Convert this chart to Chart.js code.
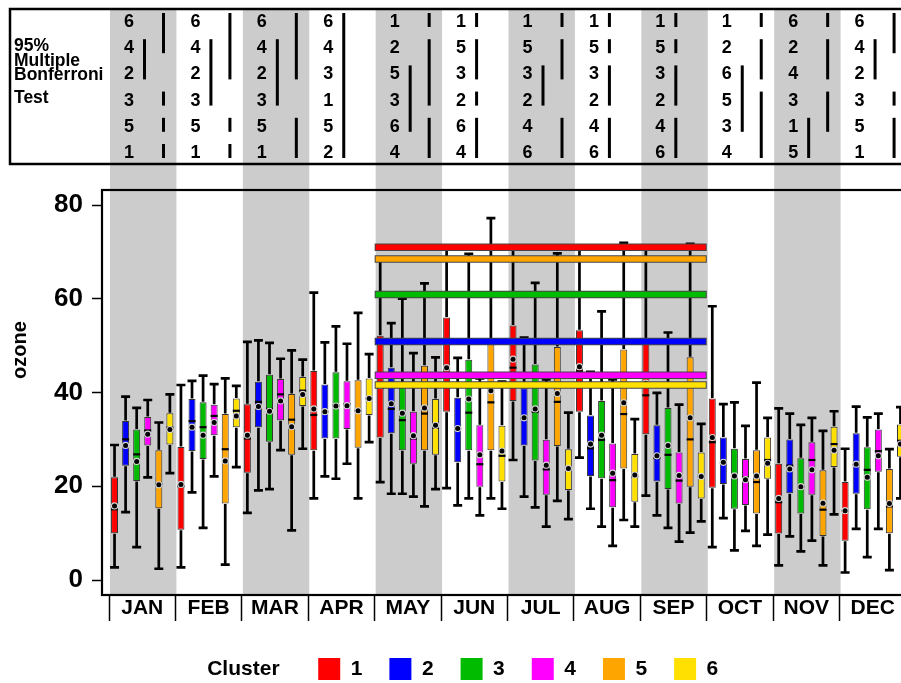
<!DOCTYPE html>
<html><head><meta charset="utf-8">
<script src="https://cdn.jsdelivr.net/npm/chart.js@4.4.0/dist/chart.umd.min.js"></script>
<style>html,body{margin:0;padding:0;background:#fff;overflow:hidden;width:901px;height:683px}canvas{display:block}</style>
</head><body><canvas id="c" width="920" height="690"></canvas>
<script>
const months = ['JAN','FEB','MAR','APR','MAY','JUN','JUL','AUG','SEP','OCT','NOV','DEC'];
const clusters = ['1','2','3','4','5','6'];
const clusterColors = ['#FF0000','#0000FF','#00BB00','#FF00FF','#FFA500','#FFE000'];
const yTicks = [0,20,40,60,80];
const shadedMonths = [0,2,4,6,8,10];

// cluster 1
const c1Low  = [2.7, 2.7,14.3,17.4,20.9,19.6,25.6,26.1,18.0, 7.0, 3.1, 1.6];
const c1Q1   = [10.0,10.7,22.9,27.7,30.4,35.9,38.2,35.9,31.1,19.7, 9.9, 8.4];
const c1Med  = [15.1,20.0,30.2,35.2,41.0,45.0,45.3,44.5,39.4,29.4,16.6,14.8];
const c1Q3   = [21.9,28.4,37.5,44.6,52.1,56.0,54.3,53.3,50.5,38.7,24.8,20.9];
const c1High = [28.8,41.6,50.8,61.3,68.5,70.5,70.5,70.5,70.5,58.4,36.6,28.0];
const c1Mean = [15.8,20.4,30.9,36.5,41.5,45.3,47.1,45.5,42.0,30.4,17.4,14.8];
// cluster 2
const c2Low  = [14.5,18.7,19.1,22.1,18.4,15.9,17.8,15.2,13.8,13.2, 9.3,10.9];
const c2Q1   = [24.4,27.5,32.6,30.2,31.3,25.1,28.7,22.2,21.0,20.5,18.5,18.4];
const c2Med  = [30.0,33.9,38.0,35.9,36.5,32.3,34.5,28.1,26.0,24.9,24.4,24.6];
const c2Q3   = [33.9,38.6,42.3,41.7,45.3,38.9,40.9,35.1,33.0,30.4,30.0,31.3];
const c2High = [39.1,42.5,51.1,50.7,54.8,47.4,51.7,44.4,39.9,37.5,35.5,37.0];
const c2Mean = [28.7,32.6,37.0,35.9,37.6,32.3,34.6,29.0,26.5,25.1,23.7,24.7];
// cluster 3
const c3Low  = [ 7.0,11.1,19.4,21.6,18.4,17.4,15.5,11.4,11.1, 6.3, 6.1, 4.9];
const c3Q1   = [21.1,25.8,29.5,30.2,27.7,27.7,25.5,21.7,19.4,15.2,14.2,15.1];
const c3Med  = [26.8,32.6,36.5,37.2,34.1,35.7,35.9,29.9,26.7,22.2,19.9,23.5];
const c3Q3   = [32.1,37.9,43.8,44.3,41.5,47.0,46.0,38.2,36.7,28.0,26.0,28.3];
const c3High = [36.7,43.6,50.6,54.1,60.0,69.6,63.4,57.3,52.8,37.9,33.1,34.7];
const c3Mean = [25.3,30.9,36.0,37.1,35.6,38.6,36.5,30.9,28.7,22.2,19.9,21.9];
// cluster 4
const c4Low  = [21.9,22.1,27.7,24.8,17.8,13.8,11.4, 7.3, 8.2,10.5, 8.4,10.9];
const c4Q1   = [28.7,30.9,34.1,32.2,24.8,19.9,18.2,15.5,16.3,16.0,18.2,23.1];
const c4Med  = [31.9,35.0,39.6,37.5,30.2,24.7,23.6,21.3,21.2,21.9,25.6,27.5];
const c4Q3   = [34.8,37.4,42.9,42.4,35.9,33.0,29.9,29.1,27.2,25.8,29.4,32.1];
const c4High = [38.4,41.8,47.2,50.4,48.4,43.0,42.8,42.8,37.4,32.9,34.6,35.5];
const c4Mean = [31.1,33.6,38.2,37.2,30.8,26.7,24.5,22.8,22.3,21.4,23.5,26.5];
// cluster 5
const c5Low  = [ 2.4, 3.3,10.6,17.4,15.7,17.4,16.9,12.8,10.1, 7.3, 3.1, 2.1];
const c5Q1   = [15.3,16.3,26.7,28.2,27.7,27.7,28.6,23.8,19.9,14.2, 9.4,10.0];
const c5Med  = [20.5,27.9,34.2,36.1,35.5,37.9,38.0,35.4,30.0,20.9,15.0,15.7];
const c5Q3   = [27.7,35.4,39.7,42.6,45.7,50.3,49.7,49.2,47.5,27.7,23.4,23.7];
const c5High = [33.6,43.0,49.0,57.0,63.3,77.2,69.7,71.9,71.7,42.1,31.8,27.9];
const c5Mean = [20.3,25.4,32.7,36.1,36.7,40.4,39.8,37.8,34.6,22.2,16.4,16.3];
// cluster 6
const c6Low  = [22.8,24.1,28.0,29.4,19.4,15.2,13.0,11.4,12.5, 9.7,14.0,17.4];
const c6Q1   = [28.9,32.6,37.1,35.2,26.7,21.0,19.2,16.7,17.4,21.6,24.1,26.3];
const c6Med  = [32.5,36.1,40.4,38.7,32.5,26.5,23.8,22.1,22.1,25.6,29.0,29.7];
const c6Q3   = [35.6,38.7,43.3,43.0,38.6,32.9,27.9,26.9,27.2,30.4,32.7,33.2];
const c6High = [39.6,41.4,47.0,48.2,47.5,42.3,35.7,34.3,33.3,34.6,36.0,36.9];
const c6Mean = [32.1,35.0,39.6,38.7,33.0,27.5,23.8,22.4,22.1,24.9,27.7,29.0];

// horizontal reference lines (May-Sep) per cluster
const refLevels = [71.0, 50.9, 60.9, 43.7, 68.5, 41.6];
const refStartMonth = 4, refEndMonth = 9;

// Bonferroni table: order of clusters (top to bottom) per month
const bonfOrder = [
  ['6','4','2','3','5','1'], ['6','4','2','3','5','1'], ['6','4','2','3','5','1'],
  ['6','4','3','1','5','2'], ['1','2','5','3','6','4'], ['1','5','3','2','6','4'],
  ['1','5','3','2','4','6'], ['1','5','3','2','4','6'], ['1','5','3','2','4','6'],
  ['1','2','6','5','3','4'], ['6','2','4','3','1','5'], ['6','4','2','3','5','1']
];
// grouping bars: [column ('A' outer, 'B' inner), first row, last row]
const bonfGroups = [
  [['A',0,1],['B',1,2],['A',3,3],['A',4,4],['A',5,5]],
  [['A',0,2],['B',1,3],['A',4,4],['A',5,5]],
  [['A',0,2],['B',1,3],['A',4,5]],
  [['B',0,5]],
  [['A',0,0],['A',1,3],['B',2,4],['A',4,5]],
  [['B',0,0],['B',1,2],['B',3,3],['B',4,5]],
  [['A',0,0],['A',1,2],['B',2,3],['A',4,5]],
  [['B',0,0],['B',1,1],['B',2,3],['B',4,5]],
  [['B',0,0],['B',1,1],['B',2,3],['B',4,5]],
  [['A',0,0],['A',1,2],['B',2,4],['A',3,5]],
  [['A',0,0],['A',1,2],['A',3,4],['B',4,5]],
  [['A',0,1],['B',1,2],['A',3,3],['A',4,5]]
];
const bonfTitle = ['95%','Multiple','Bonferroni','Test'];

const statLow  = [c1Low, c2Low, c3Low, c4Low, c5Low, c6Low];
const statQ1   = [c1Q1, c2Q1, c3Q1, c4Q1, c5Q1, c6Q1];
const statMed  = [c1Med, c2Med, c3Med, c4Med, c5Med, c6Med];
const statQ3   = [c1Q3, c2Q3, c3Q3, c4Q3, c5Q3, c6Q3];
const statHigh = [c1High, c2High, c3High, c4High, c5High, c6High];
const statMean = [c1Mean, c2Mean, c3Mean, c4Mean, c5Mean, c6Mean];

const FONT = "'Liberation Sans', Arial, Helvetica, sans-serif";
Chart.defaults.font.family = FONT;

const datasets = [];
clusters.forEach((c, k) => {
  datasets.push({
    type: 'bar', label: c, clusterIndex: k,
    data: months.map((m, i) => ({x: i + 0.5, y: [statQ1[k][i], statQ3[k][i]]})),
    backgroundColor: clusterColors[k], borderColor: '#333', borderWidth: 1, borderSkipped: false,
    barPercentage: 0.63, categoryPercentage: 1.0, order: 1
  });
});
clusters.forEach((c, k) => {
  datasets.push({
    type: 'line', label: 'ref' + c,
    data: [{x: refStartMonth, y: refLevels[k]}, {x: refEndMonth, y: refLevels[k]}],
    borderColor: '#444', borderWidth: 7.5, pointRadius: 0, borderCapStyle: 'butt', order: -1
  });
  datasets.push({
    type: 'line', label: 'refc' + c,
    data: [{x: refStartMonth + 0.015, y: refLevels[k]}, {x: refEndMonth - 0.015, y: refLevels[k]}],
    borderColor: clusterColors[k], borderWidth: 5.5, pointRadius: 0, borderCapStyle: 'butt', order: -2
  });
});

const boxParts = {
  id: 'boxParts',
  afterDatasetDraw(chart, args) {
    const ds = chart.data.datasets[args.index];
    if (ds.type !== 'bar') return;
    const k = ds.clusterIndex, ys = chart.scales.y, ctx = chart.ctx;
    ctx.save();
    args.meta.data.forEach((el, i) => {
      const x = el.x, w = el.width;
      const pLo = ys.getPixelForValue(statLow[k][i]), pQ1 = ys.getPixelForValue(statQ1[k][i]);
      const pMed = ys.getPixelForValue(statMed[k][i]), pQ3 = ys.getPixelForValue(statQ3[k][i]);
      const pHi = ys.getPixelForValue(statHigh[k][i]), pMean = ys.getPixelForValue(statMean[k][i]);
      ctx.strokeStyle = '#000'; ctx.lineWidth = 2.7; ctx.lineCap = 'butt';
      ctx.beginPath();
      ctx.moveTo(x, pQ3 - 0.5); ctx.lineTo(x, pHi);
      ctx.moveTo(x, pQ1 + 0.5); ctx.lineTo(x, pLo);
      ctx.moveTo(x - w / 2 - 1, pHi); ctx.lineTo(x + w / 2 + 1, pHi);
      ctx.moveTo(x - w / 2 - 1, pLo); ctx.lineTo(x + w / 2 + 1, pLo);
      ctx.stroke();
      ctx.lineWidth = 2.2;
      ctx.beginPath(); ctx.moveTo(x - w / 2, pMed); ctx.lineTo(x + w / 2, pMed); ctx.stroke();
      ctx.fillStyle = '#d8d8d8';
      ctx.beginPath(); ctx.arc(x, pMean, 3.6, 0, Math.PI * 2); ctx.fill();
      ctx.fillStyle = '#000';
      ctx.beginPath(); ctx.arc(x, pMean, 2.5, 0, Math.PI * 2); ctx.fill();
    });
    ctx.restore();
  }
};

const panels = {
  id: 'panels',
  beforeDraw(chart) {
    const ctx = chart.ctx, xs = chart.scales.x, ca = chart.chartArea;
    ctx.save();
    ctx.fillStyle = '#cccccc';
    shadedMonths.forEach(m => {
      const a = xs.getPixelForValue(m) + 1, b = xs.getPixelForValue(m + 1) + 1;
      ctx.fillRect(a, 10, b - a, ca.bottom - 10);
    });
    // top panel frame
    ctx.strokeStyle = '#000'; ctx.lineWidth = 2.5;
    ctx.strokeRect(10, 9, ca.right - 10, 155);
    ctx.fillStyle = '#000';
    ctx.font = 'bold 17.5px ' + FONT;
    ctx.textAlign = 'left'; ctx.textBaseline = 'middle';
    const titleY = [46, 61, 75.5, 98];
    bonfTitle.forEach((t, i) => ctx.fillText(t, 14, titleY[i]));
    const rowY = r => 21 + 26.2 * r;
    ctx.font = 'bold 18px ' + FONT;
    ctx.textAlign = 'center';
    months.forEach((m, i) => {
      const a = xs.getPixelForValue(i) + 1;
      bonfOrder[i].forEach((c, r) => ctx.fillText(c, a + 19, rowY(r) + 1));
      bonfGroups[i].forEach(([col, r0, r1]) => {
        const x = a + (col === 'A' ? 53.5 : 34.5);
        ctx.fillRect(x - 1.5, rowY(r0) - 8, 3, rowY(r1) - rowY(r0) + 14);
      });
    });
    ctx.restore();
  },
  afterDraw(chart) {
    const ctx = chart.ctx, ca = chart.chartArea;
    ctx.save();
    ctx.strokeStyle = '#000'; ctx.lineWidth = 2.2;
    ctx.strokeRect(ca.left, ca.top, ca.right - ca.left, ca.bottom - ca.top);
    ctx.fillStyle = '#000';
    ctx.font = 'bold 20px ' + FONT;
    ctx.textAlign = 'center'; ctx.textBaseline = 'middle';
    ctx.translate(20, 350); ctx.rotate(-Math.PI / 2);
    ctx.fillText('ozone', 0, 0);
    ctx.restore();
  }
};

new Chart(document.getElementById('c'), {
  type: 'bar',
  data: { datasets },
  options: {
    responsive: false, animation: false, devicePixelRatio: 1,
    layout: { padding: { top: 190, left: -20, right: 7, bottom: 0 } },
    plugins: {
      tooltip: { enabled: false },
      legend: {
        position: 'bottom',
        labels: {
          boxWidth: 22, boxHeight: 22, padding: 27, color: '#000',
          font: { size: 21, weight: 'bold', family: FONT },
          generateLabels: () => [{ text: 'Cluster  ', fillStyle: 'rgba(0,0,0,0)', strokeStyle: 'rgba(0,0,0,0)', lineWidth: 0, hidden: false, datasetIndex: -1 }]
            .concat(clusters.map((c, i) => ({ text: c, fillStyle: clusterColors[i], strokeStyle: clusterColors[i], lineWidth: 0, hidden: false, datasetIndex: i })))
        }
      }
    },
    scales: {
      x: {
        type: 'linear', min: -7 / 66.4, max: 12 + 7 / 66.4, offset: false,
        afterBuildTicks: s => { s.ticks = months.concat(['']).map((_, i) => ({ value: i })); },
        afterFit: s => { s.height = 36; s.paddingLeft = 0; s.paddingRight = 0; },
        grid: { offset: false, drawOnChartArea: false, drawTicks: true, tickLength: 26, tickColor: '#000', tickWidth: 1.5 },
        border: { display: false },
        ticks: {
          autoSkip: false, maxRotation: 0, minRotation: 0, labelOffset: 33.2, padding: -25,
          color: '#000', font: { size: 21, weight: 'bold', family: FONT },
          callback: v => months[v] !== undefined ? months[v] : ''
        }
      },
      y: {
        type: 'linear', min: -3.2, max: 83.2,
        afterBuildTicks: s => { s.ticks = yTicks.map(v => ({ value: v })); },
        afterFit: s => { s.width = 122; s.paddingTop = 0; s.paddingBottom = 0; },
        grid: { drawOnChartArea: false, drawTicks: true, tickLength: 10, tickColor: '#000', tickWidth: 1.5 },
        border: { display: false },
        ticks: { color: '#000', padding: 9, font: { size: 26, weight: 'bold', family: FONT } }
      }
    }
  },
  plugins: [panels, boxParts]
});
</script></body></html>
